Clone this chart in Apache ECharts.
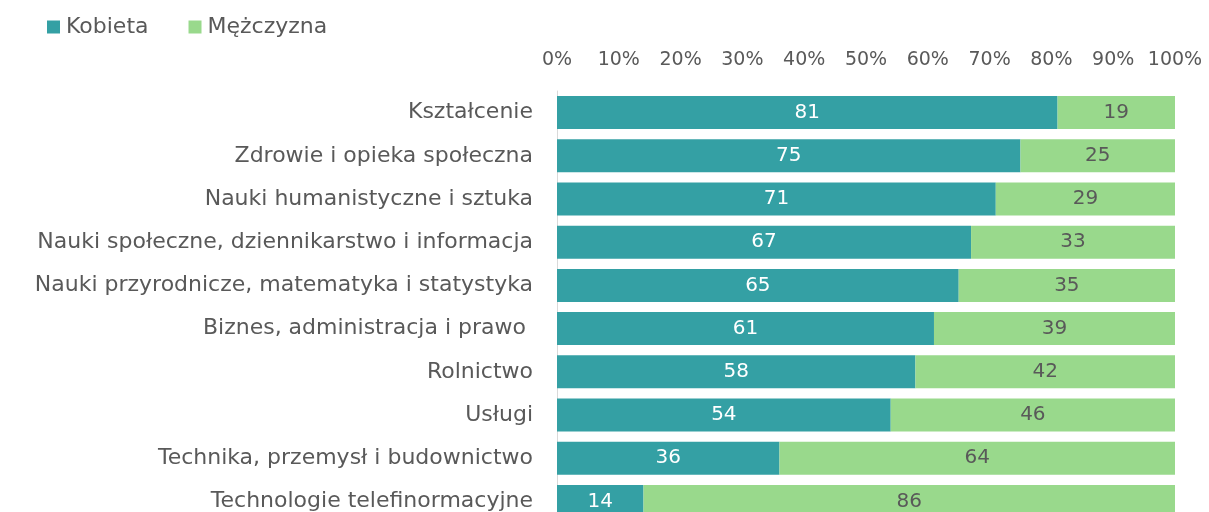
<!DOCTYPE html>
<html>
<head>
<meta charset="utf-8">
<script src="https://cdn.jsdelivr.net/npm/echarts@6/dist/echarts.min.js"></script>
<style>
    html, body { margin: 0; padding: 0; background: #fff; }
    #chart { width: 1209px; height: 512px; }
</style>
</head>
<body>
<div id="chart"></div>
<script>
const categories = [
    'Kształcenie',
    'Zdrowie i opieka społeczna',
    'Nauki humanistyczne i sztuka',
    'Nauki społeczne, dziennikarstwo i informacja',
    'Nauki przyrodnicze, matematyka i statystyka',
    'Biznes, administracja i prawo ',
    'Rolnictwo',
    'Usługi',
    'Technika, przemysł i budownictwo',
    'Technologie telefinormacyjne'
];
const kobieta = [81, 75, 71, 67, 65, 61, 58, 54, 36, 14];
const mezczyzna = [19, 25, 29, 33, 35, 39, 42, 46, 64, 86];

const font = 'DejaVu Sans';
const textColor = '#595959';

const chart = echarts.init(document.getElementById('chart'));
chart.setOption({
    animation: false
    , textStyle: {fontFamily: font}
    , legend: {
        left: 42
        , top: 11
        , itemWidth: 13
        , itemHeight: 13
        , itemGap: 40
        , icon: 'rect'
        , textStyle: {fontSize: 22, color: textColor, fontFamily: font, padding: [0, 0, 0, 1]}
        , data: ['Kobieta', 'Mężczyzna']
    }
    , grid: {
        left: 557
        , right: 34
        , top: 91
        , bottom: -11
        , outerBoundsMode: 'none'
        , containLabel: false
    }
    , xAxis: {
        type: 'value'
        , position: 'top'
        , min: 0
        , max: 100
        , interval: 10
        , axisLine: {show: false}
        , axisTick: {show: false}
        , splitLine: {show: false}
        , axisLabel: {
            formatter: '{value}%'
            , fontSize: 19
            , color: textColor
            , margin: 21
            , fontFamily: font
        }
    }
    , yAxis: {
        type: 'category'
        , inverse: true
        , data: categories
        , axisLine: {show: true, lineStyle: {color: '#d9d9d9', width: 1}}
        , axisTick: {show: false}
        , axisLabel: {fontSize: 22, color: textColor, margin: 24, fontFamily: font}
    }
    , series: [
        {
            name: 'Kobieta'
            , type: 'bar'
            , stack: 'total'
            , data: kobieta
            , barWidth: 33
            , itemStyle: {color: '#34a0a4'}
            , label: {show: true, position: 'inside', color: '#ffffff', fontSize: 20, fontFamily: font}
        }
        , {
            name: 'Mężczyzna'
            , type: 'bar'
            , stack: 'total'
            , data: mezczyzna
            , barWidth: 33
            , itemStyle: {color: '#99d98c'}
            , label: {show: true, position: 'inside', color: textColor, fontSize: 20, fontFamily: font}
        }
    ]
});
</script>
</body>
</html>
